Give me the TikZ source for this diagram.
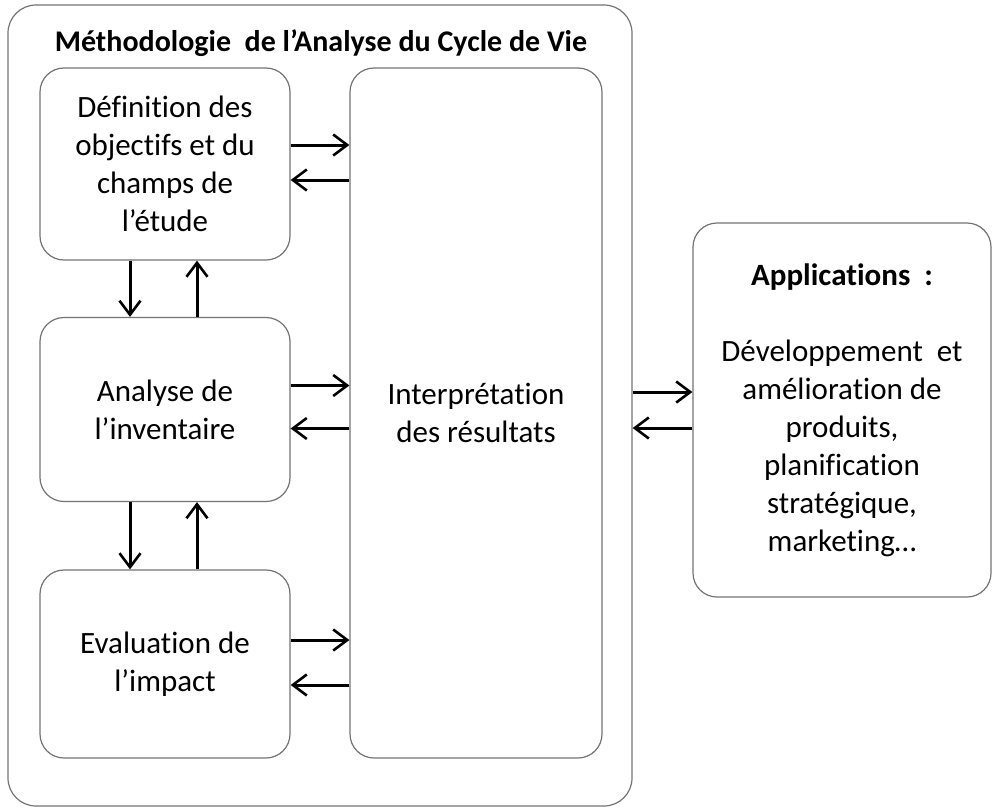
\documentclass[tikz,border=0pt]{standalone}
\usepackage{fontspec}
\setmainfont{Carlito}[Ligatures={NoCommon,NoRequired,NoContextual},RawFeature={-liga;-dlig;-clig}]
\usetikzlibrary{arrows.meta}
\tikzset{
  box/.style={draw=black!55, line width=1.2pt, rounded corners=24pt,
    align=center, inner sep=0pt, font=\fontsize{31}{38}\selectfont},
  arr/.style={line width=3pt, -{Straight Barb[length=14pt,width=21pt,line width=2.6pt]}}
}
\begin{document}
\begin{tikzpicture}[x=1pt,y=-1pt]
    \useasboundingbox (0,0) rectangle (993,809);
    \node[box, minimum width=624pt, minimum height=801pt, rounded corners=28pt] (acv) at (320,405.5) {};
    \node[font=\bfseries\fontsize{30}{34}\selectfont] (titre) at (321,43) {Méthodologie\ \ de l’Analyse du Cycle de Vie};
    \node[box, minimum width=250pt, minimum height=192pt] (def) at (165,164)
      {Définition des\\objectifs et du\\champs de\\l’étude};
    \node[box, minimum width=250pt, minimum height=184pt] (inv) at (165,409.5)
      {Analyse de\\l’inventaire};
    \node[box, minimum width=250pt, minimum height=188pt] (eval) at (165,664)
      {Evaluation de\\l’impact};
    \node[box, minimum width=252pt, minimum height=690pt] (interp) at (476,413)
      {Interprétation\\des résultats};
    \node[box, minimum width=298pt, minimum height=374pt] (app) at (842,410)
      {\textbf{Applications\ \ :}\\[38pt]Développement\ \ et\\amélioration de\\produits,\\planification\\stratégique,\\marketing…};
    \draw[arr] ([yshift=19pt]def.east) -- ([yshift=19pt]def.east -| interp.west);
    \draw[arr] ([yshift=-16pt]def.east -| interp.west) -- ([yshift=-16pt]def.east);
    \draw[arr] ([yshift=24pt]inv.east) -- ([yshift=24pt]inv.east -| interp.west);
    \draw[arr] ([yshift=-19pt]inv.east -| interp.west) -- ([yshift=-19pt]inv.east);
    \draw[arr] ([yshift=24pt]eval.east) -- ([yshift=24pt]eval.east -| interp.west);
    \draw[arr] ([yshift=-21pt]eval.east -| interp.west) -- ([yshift=-21pt]eval.east);
    \draw[arr] ([xshift=-35pt]def.south) -- ([xshift=-35pt]inv.north);
    \draw[arr] ([xshift=32pt]inv.north) -- ([xshift=32pt]def.south);
    \draw[arr] ([xshift=-35pt]inv.south) -- ([xshift=-35pt]eval.north);
    \draw[arr] ([xshift=32pt]eval.north) -- ([xshift=32pt]inv.south);
    \draw[arr] ([yshift=18pt]app.west -| acv.east) -- ([yshift=18pt]app.west);
    \draw[arr] ([yshift=-18pt]app.west) -- ([yshift=-18pt]app.west -| acv.east);
  \end{tikzpicture}
\end{document}
